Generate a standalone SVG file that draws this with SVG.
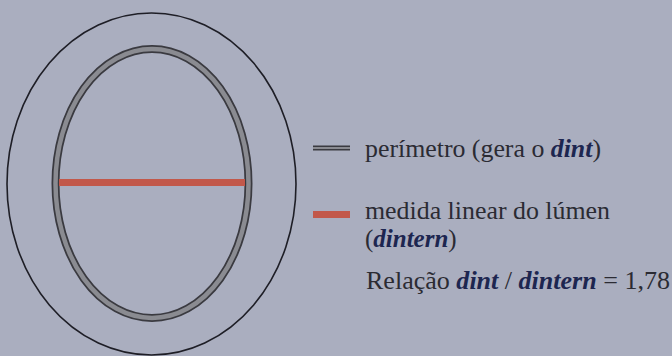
<svg xmlns="http://www.w3.org/2000/svg" width="672" height="356" viewBox="0 0 672 356">
<style>
text{font-family:'Liberation Serif','Times New Roman','DejaVu Serif',serif;font-size:25px;fill:#2b2b33}
.b{font-weight:bold;font-style:italic;fill:#1d2650}
.perim-o{fill:none;stroke:#3a3a40;stroke-width:8}
.perim-i{fill:none;stroke:#8a8b91;stroke-width:4.5}
.red{stroke:#c2584a;stroke-width:7}
</style>
<rect width="672" height="356" fill="#aaaebf"/>
<g id="outer-wall"><ellipse cx="151.5" cy="184" rx="144.5" ry="171" fill="none" stroke="#1e1e26" stroke-width="1.6"/></g>
<g id="perimeter"><ellipse class="perim-o" cx="152" cy="183.5" rx="96.5" ry="134.5"/><ellipse class="perim-i" cx="152" cy="183.5" rx="96.5" ry="134.5"/></g>
<g id="lumen-line"><line class="red" x1="59" y1="182.5" x2="245" y2="182.5"/></g>
<g id="legend-perimeter">
<line x1="313" y1="148" x2="350" y2="148" stroke="#3a3a40" stroke-width="5"/>
<line x1="313" y1="148" x2="350" y2="148" stroke="#8a8b91" stroke-width="2"/>
<text font-family="Liberation Serif, serif" x="365" y="157" textLength="236" lengthAdjust="spacingAndGlyphs">perímetro (gera o <tspan class="b">dint</tspan>)</text>
</g>
<g id="legend-lumen">
<line class="red" x1="313" y1="214.5" x2="350" y2="214.5" stroke-width="5"/>
<text font-family="Liberation Serif, serif" x="365" y="218.5" textLength="245" lengthAdjust="spacingAndGlyphs">medida linear do lúmen</text>
<text font-family="Liberation Serif, serif" x="365" y="246.5">(<tspan class="b">dintern</tspan>)</text>
</g>
<g id="relation">
<text font-family="Liberation Serif, serif" x="366" y="288.5" textLength="304" lengthAdjust="spacingAndGlyphs">Relação <tspan class="b">dint</tspan> / <tspan class="b">dintern</tspan> = 1,78</text>
</g>
</svg>
